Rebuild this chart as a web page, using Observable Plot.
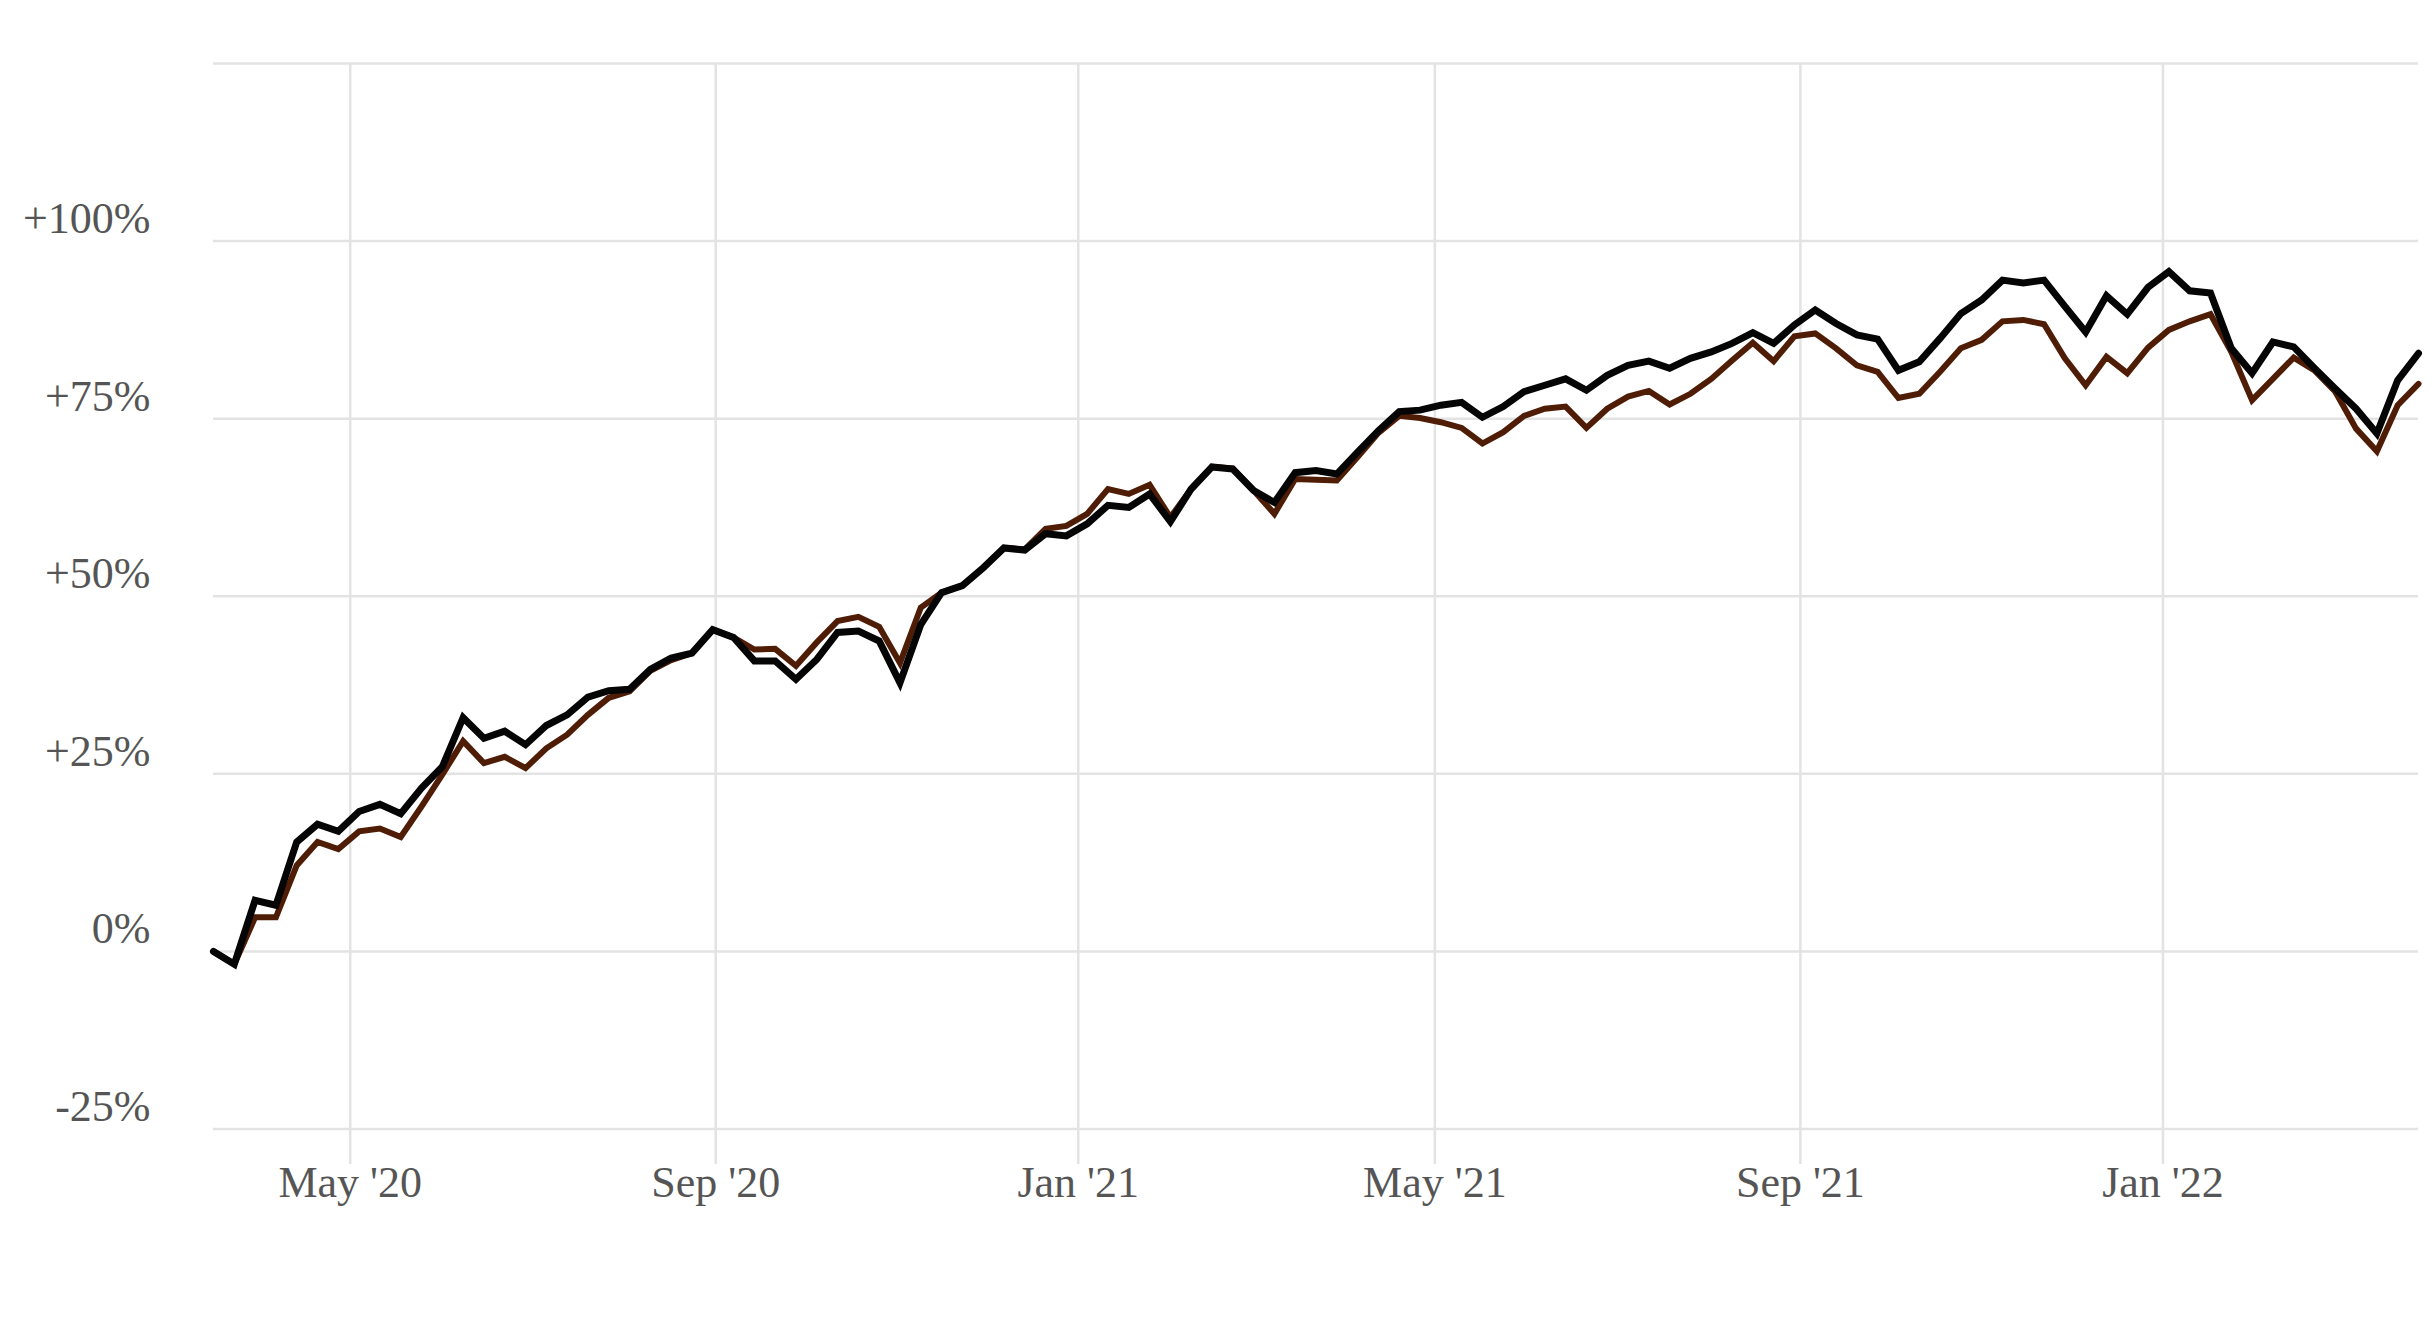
<!DOCTYPE html>
<html>
<head>
<meta charset="utf-8">
<script src="https://cdn.jsdelivr.net/npm/d3@7"></script>
<script src="https://cdn.jsdelivr.net/npm/@observablehq/plot@0.6"></script>
<style>
  html, body { margin: 0; padding: 0; background: #ffffff; }
  #chart svg { display: block; }
</style>
</head>
<body>
<div id="chart"></div>
<script>
// Weekly observations starting 2020-03-16
const startDate = "2020-03-16";

// Black series (% change)
const seriesBlack = [
  0, -1.8, 7.2, 6.5, 15.4, 17.9, 16.9, 19.7, 20.7, 19.4,
  23.0, 26.0, 32.9, 30.0, 31.0, 29.1, 31.8, 33.3, 35.8, 36.7,
  36.9, 39.7, 41.3, 42.0, 45.3, 44.2, 40.9, 40.9, 38.3, 41.1,
  44.9, 45.1, 43.7, 37.8, 46.0, 50.5, 51.5, 54.0, 56.8, 56.5,
  58.8, 58.5, 60.2, 62.8, 62.5, 64.4, 60.5, 65.1, 68.2, 67.9,
  64.9, 63.2, 67.4, 67.7, 67.2, 70.3, 73.3, 76.0, 76.2, 76.9,
  77.3, 75.2, 76.7, 78.8, 79.7, 80.6, 79.0, 81.1, 82.5, 83.1,
  82.1, 83.5, 84.4, 85.6, 87.1, 85.6, 88.2, 90.3, 88.4, 86.8,
  86.2, 81.8, 83.0, 86.3, 89.8, 91.7, 94.5, 94.1, 94.5, 90.8,
  87.2, 92.3, 89.7, 93.5, 95.7, 93.0, 92.7, 84.9, 81.4, 85.8,
  85.1, 82.1, 79.2, 76.4, 72.9, 80.4, 84.2
];

// Brown series (% change)
const seriesBrown = [
  0, -1.8, 4.8, 4.8, 12.1, 15.4, 14.4, 16.9, 17.3, 16.1,
  20.4, 24.9, 29.6, 26.5, 27.4, 25.8, 28.6, 30.5, 33.3, 35.7,
  36.6, 39.5, 41.0, 42.0, 45.3, 44.2, 42.5, 42.6, 40.2, 43.5,
  46.5, 47.1, 45.7, 40.6, 48.4, 50.5, 51.5, 54.0, 56.8, 56.6,
  59.5, 59.9, 61.6, 65.1, 64.4, 65.7, 61.1, 65.1, 68.2, 68.0,
  64.9, 61.6, 66.5, 66.4, 66.3, 69.6, 73.0, 75.4, 75.1, 74.5,
  73.7, 71.5, 73.1, 75.4, 76.4, 76.7, 73.7, 76.4, 78.1, 78.9,
  77.0, 78.5, 80.6, 83.2, 85.7, 83.1, 86.6, 87.0, 84.9, 82.5,
  81.6, 77.9, 78.5, 81.6, 84.9, 86.1, 88.7, 88.9, 88.3, 83.5,
  79.7, 83.7, 81.4, 85.0, 87.5, 88.7, 89.7, 84.4, 77.6, 80.6,
  83.6, 81.8, 78.8, 73.6, 70.4, 76.9, 79.9
];

// Axis ticks
const xTickDates = ["2020-05-01", "2020-09-01", "2021-01-01", "2021-05-01", "2021-09-01", "2022-01-01"];
const yGridTicks = [-25, 0, 25, 50, 75, 100, 125];
const yLabelTicks = [-25, 0, 25, 50, 75, 100];

const start = new Date(startDate + "T00:00:00Z");
const dates = seriesBlack.map((_, i) => d3.utcDay.offset(start, 7 * i));
const blackData = seriesBlack.map((v, i) => ({date: dates[i], value: v}));
const brownData = seriesBrown.map((v, i) => ({date: dates[i], value: v}));
const xTicks = xTickDates.map(s => new Date(s + "T00:00:00Z"));

const fmtY = d => d === 0 ? "0%" : (d > 0 ? "+" : "") + d + "%";
const fmtX = d3.utcFormat("%b '%y");

const chart = Plot.plot({
  width: 2436,
  height: 1336,
  marginLeft: 213,
  marginRight: 18,
  marginTop: 63,
  marginBottom: 172,
  style: {fontFamily: "'Liberation Serif', 'Times New Roman', serif", background: "#ffffff"},
  x: {type: "utc", domain: [dates[0], dates[dates.length - 1]]},
  y: {domain: [-30, 125]},
  marks: [
    Plot.gridX(xTicks, {stroke: "#e3e3e3", strokeOpacity: 1, strokeWidth: 2.5}),
    Plot.gridY(yGridTicks, {stroke: "#e3e3e3", strokeOpacity: 1, strokeWidth: 2.5}),
    Plot.axisX(xTicks, {tickSize: 0, tickPadding: 1, tickFormat: fmtX, fontSize: 44, fill: "#555", label: null}),
    Plot.axisY(yLabelTicks, {tickSize: 0, tickPadding: 63, tickFormat: fmtY, fontSize: 44, fill: "#555", dy: -22, label: null}),
    Plot.line(brownData, {x: "date", y: "value", stroke: "#4f1d06", strokeWidth: 6, strokeLinejoin: "miter", strokeMiterlimit: 4}),
    Plot.line(blackData, {x: "date", y: "value", stroke: "#050505", strokeWidth: 7, strokeLinejoin: "miter", strokeMiterlimit: 4})
  ]
});
document.getElementById("chart").appendChild(chart);
</script>
</body>
</html>
